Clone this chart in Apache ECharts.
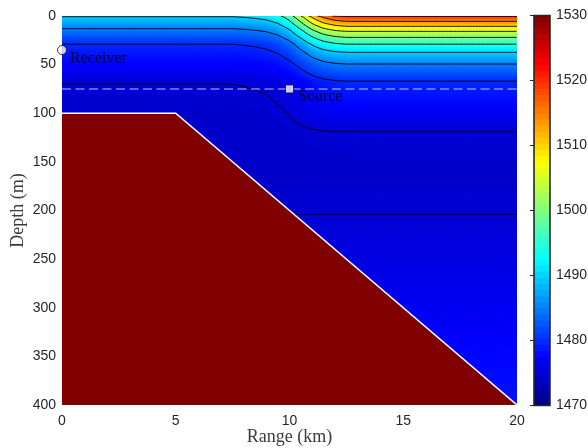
<!DOCTYPE html>
<html><head><meta charset="utf-8">
<script src="https://cdn.jsdelivr.net/npm/echarts@6/dist/echarts.min.js"></script>
<style>html,body{margin:0;padding:0;background:#fff}#c{width:588px;height:448px}</style>
</head><body><div id="c"></div>
<script>
// ---- data ----
const rangeTicks = [0, 5, 10, 15, 20];              // km
const depthTicks = [0, 50, 100, 150, 200, 250, 300, 350, 400]; // m
const colorTicks = [1470, 1480, 1490, 1500, 1510, 1520, 1530]; // m/s
// sound-speed profile on the shelf side (left)
const leftDepth = [0, 0.7, 13, 29, 70, 100, 160, 204, 260, 330, 400];
const leftSpeed = [1490.6, 1490, 1485, 1480, 1475, 1474.5, 1474.3, 1475, 1476, 1477.3, 1478.5];
// sound-speed profile on the deep side (right)
const rightDepth = [0, 0.5, 5.5, 10.6, 15.8, 22, 29, 37.4, 49.4, 67, 119, 160, 204, 260, 330, 400];
const rightSpeed = [1522, 1520, 1515, 1510, 1505, 1500, 1495, 1490, 1485, 1480, 1475, 1474.3, 1475, 1476, 1477.3, 1478.5];
// weight of the right profile across the front
const frontRange  = [0, 7.5, 8, 8.5, 9, 9.5, 10, 10.5, 11, 11.5, 12, 12.5, 20];
const frontWeight = [0, 0, 0.01, 0.025, 0.05, 0.11, 0.24, 0.46, 0.7, 0.87, 0.96, 1, 1];
const contourLevels = [1475, 1480, 1485, 1490, 1495, 1500, 1505, 1510, 1515, 1520];
// bathymetry
const bathyRange = [0, 5, 20];
const bathyDepth = [100, 100, 400];
// markers
const receiverPos = [0, 35];
const sourcePos = [10, 75];
const sourceDepth = 75;

// ---- helpers ----
function interp(xs, ys, x) {
  if (x <= xs[0]) return ys[0];
  for (let i = 1; i < xs.length; i++) {
    if (x <= xs[i]) { const t = (x - xs[i-1]) / (xs[i] - xs[i-1]); return ys[i-1] + t * (ys[i] - ys[i-1]); }
  }
  return ys[ys.length - 1];
}
function speed(r, z) {
  const w = interp(frontRange, frontWeight, r);
  return (1 - w) * interp(leftDepth, leftSpeed, z) + w * interp(rightDepth, rightSpeed, z);
}
function seabed(r) { return interp(bathyRange, bathyDepth, r); }

// ---- field cells ----
const rEdges = [];
for (let r = 0; r < 7; r += 0.5) rEdges.push(r);
for (let i = 0; i < 60; i++) rEdges.push(7 + i * 0.1);
for (let r = 13; r <= 20.0001; r += 0.5) rEdges.push(r);
const zEdges = [];
for (let z = 0; z < 80; z += 1) zEdges.push(z);
for (let z = 80; z <= 400.0001; z += 2.5) zEdges.push(z);
const cells = [];
for (let i = 0; i < rEdges.length - 1; i++) {
  const r0 = rEdges[i], r1 = rEdges[i+1];
  const sb = Math.max(seabed(r0), seabed(r1));
  for (let j = 0; j < zEdges.length - 1; j++) {
    const z0 = zEdges[j], z1 = zEdges[j+1];
    if (z0 > sb + 3) continue;
    cells.push([r0, r1, z0, z1, speed((r0 + r1) / 2, (z0 + z1) / 2)]);
  }
}

// ---- contour lines from the field ----
const dz = 0.25, nz = Math.round(400 / dz) + 1;
const c1g = new Float64Array(nz), c2g = new Float64Array(nz);
for (let k = 0; k < nz; k++) { c1g[k] = interp(leftDepth, leftSpeed, k * dz); c2g[k] = interp(rightDepth, rightSpeed, k * dz); }
const contourPaths = {};
const nr = 1000;
const col = new Float64Array(nz);
for (let i = 0; i <= nr; i++) {
  const r = i * 20 / nr;
  const w = interp(frontRange, frontWeight, r);
  for (let k = 0; k < nz; k++) col[k] = (1 - w) * c1g[k] + w * c2g[k];
  contourLevels.forEach((L, li) => {
    let b = 0;
    for (let k = 1; k < nz; k++) {
      const a = col[k-1], c = col[k];
      if ((a > L) !== (c > L)) {
        const z = (k - 1) * dz + dz * (L - a) / (c - a);
        const key = li + '_' + b;
        (contourPaths[key] = contourPaths[key] || []).push([r, z]);
        b++;
      }
    }
  });
}

// ---- colorbar cells (64-step jet) ----
const cbCells = [];
for (let i = 0; i < 64; i++) {
  const v0 = 1470 + i * 60 / 64, v1 = 1470 + (i + 1) * 60 / 64;
  cbCells.push([0, 1, v0, v1, (v0 + v1) / 2]);
}

const jet = ['#000080', '#0000ff', '#0080ff', '#00ffff', '#80ff80', '#ffff00', '#ff8000', '#ff0000', '#800000'];

function rectItem(params, api) {
  const p0 = api.coord([api.value(0), api.value(2)]);
  const p1 = api.coord([api.value(1), api.value(3)]);
  return {
    type: 'rect',
    shape: { x: Math.min(p0[0], p1[0]) - 0.4, y: Math.min(p0[1], p1[1]) - 0.4,
             width: Math.abs(p1[0] - p0[0]) + 0.8, height: Math.abs(p1[1] - p0[1]) + 0.8 },
    style: { fill: api.visual('color') }
  };
}

const series = [];
series.push({
  type: 'custom', xAxisIndex: 0, yAxisIndex: 0, data: cells, renderItem: rectItem,
  encode: { x: [0, 1], y: [2, 3] }, clip: true, z: 1, progressive: 0, silent: true
});
series.push({
  type: 'custom', xAxisIndex: 1, yAxisIndex: 1, data: cbCells, renderItem: rectItem,
  encode: { x: [0, 1], y: [2, 3] }, clip: true, z: 1, progressive: 0, silent: true
});
Object.keys(contourPaths).forEach(key => {
  series.push({
    type: 'line', xAxisIndex: 0, yAxisIndex: 0, data: contourPaths[key], showSymbol: false,
    symbol: 'none', clip: true, z: 3, silent: true,
    lineStyle: { color: '#000', width: 0.9 }
  });
});
series.push({
  type: 'custom', xAxisIndex: 0, yAxisIndex: 0, z: 4, clip: true, silent: true,
  data: bathyRange.map((r, i) => [r, bathyDepth[i]]),
  renderItem: (params, api) => {
    if (params.dataIndex !== 0) return null;
    const top = bathyRange.map((r, i) => api.coord([r, bathyDepth[i]]));
    const last = bathyRange[bathyRange.length - 1];
    const poly = top.concat([api.coord([last, 400]), api.coord([bathyRange[0], 400])]);
    return { type: 'group', children: [
      { type: 'polygon', shape: { points: poly }, style: { fill: '#800000' } },
      { type: 'polyline', shape: { points: top }, style: { stroke: '#ffffff', lineWidth: 1.5, fill: null } }
    ]};
  }
});
series.push({
  type: 'line', xAxisIndex: 0, yAxisIndex: 0, z: 5, silent: true, symbol: 'none',
  data: [[rangeTicks[0], sourceDepth], [rangeTicks[rangeTicks.length - 1], sourceDepth]],
  lineStyle: { color: 'rgba(255,255,255,0.5)', width: 1.6, type: [9, 4.5] }
});
const labelFont = { fontFamily: 'Liberation Serif', fontSize: 16, color: '#000' };
series.push({
  type: 'scatter', xAxisIndex: 0, yAxisIndex: 0, z: 6, clip: false, silent: true,
  data: [
    { value: receiverPos, symbol: 'circle', symbolSize: 9,
      label: Object.assign({ show: true, formatter: 'Receiver', position: 'right', distance: 3, offset: [0, 9] }, labelFont) },
    { value: sourcePos, symbol: 'rect', symbolSize: 8,
      label: Object.assign({ show: true, formatter: 'Source', position: 'right', distance: 4, offset: [0, 8] }, labelFont) }
  ],
  itemStyle: { color: '#fff', borderColor: '#111', borderWidth: 1 }
});

const tickFont = { fontFamily: 'Liberation Sans', fontSize: 14, color: '#262626', formatter: v => String(v) };
const option = {
  animation: false,
  backgroundColor: '#fff',
  grid: [
    { left: 62, top: 16, width: 455, height: 389, outerBoundsMode: 'none', containLabel: false },
    { left: 534, top: 15.5, width: 16, height: 390, show: true, z: 10, outerBoundsMode: 'none', containLabel: false,
      backgroundColor: 'transparent', borderColor: '#262626', borderWidth: 1.6 }
  ],
  visualMap: {
    type: 'continuous', show: false, min: 1470, max: 1530, dimension: 4,
    seriesIndex: [0, 1], inRange: { color: jet }
  },
  xAxis: [
    { type: 'value', gridIndex: 0, min: 0, max: 20, interval: 5,
      axisLine: { show: false }, axisTick: { show: false }, splitLine: { show: false },
      axisLabel: Object.assign({ margin: 9 }, tickFont),
      name: 'Range (km)', nameLocation: 'middle', nameGap: 23, nameMoveOverlap: false,
      nameTextStyle: { fontFamily: 'Liberation Serif', fontSize: 18, color: '#3a3a3a' } },
    { type: 'value', gridIndex: 1, min: 0, max: 1, show: false }
  ],
  yAxis: [
    { type: 'value', gridIndex: 0, min: 0, max: 400, interval: 50, inverse: true,
      axisLine: { show: false }, axisTick: { show: false }, splitLine: { show: false },
      axisLabel: Object.assign({ margin: 6 }, tickFont),
      name: 'Depth (m)', nameLocation: 'middle', nameGap: 35, nameRotate: 90, nameMoveOverlap: false,
      nameTextStyle: { fontFamily: 'Liberation Serif', fontSize: 18, color: '#3a3a3a' } },
    { type: 'value', gridIndex: 1, min: 1470, max: 1530, interval: 10, position: 'right', z: 12,
      axisLine: { show: false }, splitLine: { show: false },
      axisTick: { show: true, inside: true, length: 4, lineStyle: { color: '#262626', width: 1 } },
      axisLabel: Object.assign({ margin: 6 }, tickFont) }
  ],
  series: series
};
const chart = echarts.init(document.getElementById('c'));
chart.setOption(option);
</script>
</body></html>
